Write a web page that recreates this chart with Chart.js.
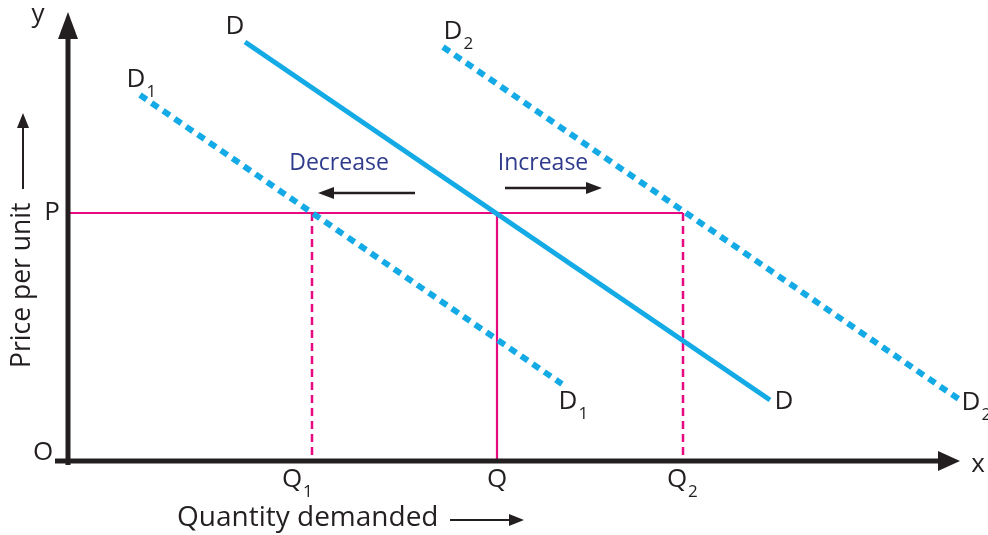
<!DOCTYPE html>
<html>
<head>
<meta charset="utf-8">
<title>Shift in demand curve</title>
<script src="https://cdn.jsdelivr.net/npm/chart.js@4/dist/chart.umd.min.js"></script>
<style>
  html, body { margin: 0; padding: 0; background: #ffffff; }
  #wrap { width: 988px; height: 535px; }
</style>
</head>
<body>
<div id="wrap"><canvas id="chart" width="988" height="535"></canvas></div>
<script>
// Equilibrium price and the three quantities
const priceP = 248;
const quantityQ1 = 244;
const quantityQ = 429;
const quantityQ2 = 615;

// Demand curves as [quantity, price] end points
const demandD  = [[177, 419], [702, 61]];
const demandD1 = [[72, 366], [494, 77]];
const demandD2 = [[375, 414], [895, 59]];

// Axis extents
const xAxisMax = 892;
const yAxisMax = 449;

const CYAN = '#13aae6';
const PINK = '#e6097f';
const INK = '#231f20';
const NAVY = '#2e3b8c';
const FONT = '"Open Sans", "DejaVu Sans", sans-serif';

const toPts = arr => arr.map(([x, y]) => ({ x, y }));

const datasets = [
  { // price line P
    data: toPts([[0, priceP], [quantityQ2, priceP]]),
    borderColor: PINK, borderWidth: 2.2, order: 5
  },
  { // Q1 guide
    data: toPts([[quantityQ1, priceP], [quantityQ1, 0]]),
    borderColor: PINK, borderWidth: 2.5, borderDash: [8, 5], order: 5
  },
  { // Q guide
    data: toPts([[quantityQ, priceP], [quantityQ, 0]]),
    borderColor: PINK, borderWidth: 2.2, order: 5
  },
  { // Q2 guide
    data: toPts([[quantityQ2, priceP], [quantityQ2, 0]]),
    borderColor: PINK, borderWidth: 2.5, borderDash: [8, 5], order: 5
  },
  { // D1
    data: toPts(demandD1),
    borderColor: CYAN, borderWidth: 6, borderDash: [8, 6], order: 1
  },
  { // D2
    data: toPts(demandD2),
    borderColor: CYAN, borderWidth: 6, borderDash: [8, 6], order: 1
  },
  { // D
    data: toPts(demandD),
    borderColor: CYAN, borderWidth: 5, order: 0
  }
].map(d => Object.assign({
  showLine: true, pointRadius: 0, pointHoverRadius: 0, fill: false,
  borderCapStyle: 'butt', tension: 0, clip: false
}, d));

// Text labels: data position plus pixel nudge
const labels = [
  { t: 'D', x: demandD[0][0], y: demandD[0][1], dx: -10, dy: -15 },
  { t: 'D', x: demandD[1][0], y: demandD[1][1], dx: 14, dy: 2 },
  { t: 'D', s: '1', x: demandD1[0][0], y: demandD1[0][1], dx: -4, dy: -15 },
  { t: 'D', s: '1', x: demandD1[1][0], y: demandD1[1][1], dx: 6, dy: 18 },
  { t: 'D', s: '2', x: demandD2[0][0], y: demandD2[0][1], dx: 10, dy: -15 },
  { t: 'D', s: '2', x: demandD2[1][0], y: demandD2[1][1], dx: 8, dy: 1 },
  { t: 'P', x: 0, y: priceP, dx: -16, dy: 0 },
  { t: 'O', x: 0, y: 0, dx: -25, dy: -8 },
  { t: 'Q', s: '1', x: quantityQ1, y: 0, dx: -20, dy: 19 },
  { t: 'Q', x: quantityQ, y: 0, dx: 0, dy: 19 },
  { t: 'Q', s: '2', x: quantityQ2, y: 0, dx: -6, dy: 19 },
  { t: 'y', x: 0, y: yAxisMax, dx: -30, dy: 3 },
  { t: 'x', x: xAxisMax, y: 0, dx: 18, dy: 4 }
];

function arrowHead(ctx, x, y, angle, len, half) {
  ctx.save();
  ctx.translate(x, y);
  ctx.rotate(angle);
  ctx.beginPath();
  ctx.moveTo(0, 0);
  ctx.lineTo(-len, -half);
  ctx.lineTo(-len, half);
  ctx.closePath();
  ctx.fill();
  ctx.restore();
}

function arrow(ctx, x1, y1, x2, y2, width, len, half) {
  const a = Math.atan2(y2 - y1, x2 - x1);
  ctx.beginPath();
  ctx.lineWidth = width;
  ctx.moveTo(x1, y1);
  ctx.lineTo(x2 - Math.cos(a) * (len - 1), y2 - Math.sin(a) * (len - 1));
  ctx.stroke();
  arrowHead(ctx, x2, y2, a, len, half);
}

const diagram = {
  id: 'diagram',
  afterDatasetsDraw(chart) {
    const { ctx, scales } = chart;
    const sx = scales.x, sy = scales.y;
    const X = v => sx.getPixelForValue(v);
    const Y = v => sy.getPixelForValue(v);
    ctx.save();
    ctx.strokeStyle = INK;
    ctx.fillStyle = INK;
    ctx.lineCap = 'butt';

    // axes
    const ox = X(0), oy = Y(0);
    arrow(ctx, ox, oy + 4, ox, Y(yAxisMax), 5, 27, 10);
    arrow(ctx, ox - 13, oy, X(xAxisMax), oy, 5, 22, 10);

    // curve & tick labels
    ctx.textAlign = 'center';
    ctx.textBaseline = 'middle';
    labels.forEach(l => {
      const px = X(l.x) + l.dx, py = Y(l.y) + l.dy;
      ctx.font = '26px ' + FONT;
      ctx.fillStyle = INK;
      const w = ctx.measureText(l.t).width;
      if (l.s) {
        ctx.fillText(l.t, px, py);
        ctx.font = '17px ' + FONT;
        ctx.textAlign = 'left';
        ctx.fillText(l.s, px + w / 2 + 1, py + 12);
        ctx.textAlign = 'center';
      } else {
        ctx.fillText(l.t, px, py);
      }
    });

    // axis titles
    ctx.font = '28px ' + FONT;
    ctx.fillStyle = INK;
    ctx.textAlign = 'left';
    ctx.fillText('Quantity demanded', 177, 518);
    arrow(ctx, 450, 520, 524, 520, 2, 15, 6);

    ctx.save();
    ctx.font = '26.5px ' + FONT;
    ctx.translate(22, 368);
    ctx.rotate(-Math.PI / 2);
    ctx.textAlign = 'left';
    ctx.fillText('Price per unit', 0, 0);
    ctx.restore();
    arrow(ctx, 23, 189, 23, 113, 2, 15, 6);

    // shift annotations
    ctx.font = '23px ' + FONT;
    ctx.fillStyle = NAVY;
    ctx.textAlign = 'center';
    ctx.fillText('Decrease', 339, 163);
    ctx.fillText('Increase', 543, 163);
    ctx.fillStyle = INK;
    arrow(ctx, 415, 193, 318, 193, 2.5, 16, 6);
    arrow(ctx, 505, 188, 602, 188, 2.5, 16, 6);

    ctx.restore();
  }
};

new Chart(document.getElementById('chart'), {
  type: 'scatter',
  data: { datasets },
  options: {
    responsive: false,
    animation: false,
    events: [],
    layout: { padding: { left: 68, right: 28, top: 12, bottom: 74 } },
    scales: {
      x: { type: 'linear', min: 0, max: xAxisMax, display: false },
      y: { type: 'linear', min: 0, max: yAxisMax, display: false }
    },
    plugins: { legend: { display: false }, tooltip: { enabled: false } }
  },
  plugins: [diagram]
});
</script>
</body>
</html>
